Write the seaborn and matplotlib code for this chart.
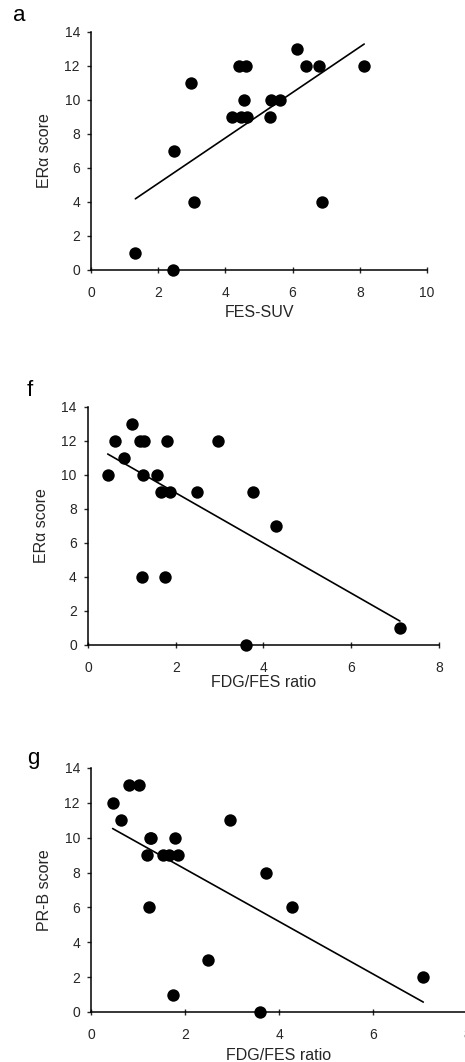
import numpy as np
import pandas as pd
import seaborn as sns
import matplotlib.pyplot as plt

# Panel a: FES-SUV vs ERa score
fes_suv = [1.32, 2.43, 2.47, 2.99, 3.06, 4.20, 4.41, 4.46, 4.61, 4.56,
           4.65, 5.33, 5.35, 5.62, 6.12, 6.39, 6.79, 6.88, 8.13]
era_a = [1, 0, 7, 11, 4, 9, 12, 9, 12, 10, 9, 9, 10, 10, 13, 12, 12, 4, 12]

# Panel f: FDG/FES ratio vs ERa score
ratio_f = [0.45, 0.62, 0.81, 1.01, 1.18, 1.27, 1.23, 1.26, 1.57, 1.66,
           1.80, 1.75, 1.87, 2.48, 2.96, 3.61, 3.75, 4.29, 7.11]
era_f = [10, 12, 11, 13, 12, 12, 4, 10, 10, 9, 12, 4, 9, 9, 12, 0, 9, 7, 1]

# Panel g: FDG/FES ratio vs PR-B score
ratio_g = [0.46, 0.64, 0.81, 1.02, 1.19, 1.26, 1.28, 1.24, 1.54, 1.65,
           1.79, 1.86, 1.74, 2.48, 2.95, 3.59, 3.73, 4.27, 7.07]
prb_g = [12, 11, 13, 13, 9, 10, 10, 6, 9, 9, 10, 9, 1, 3, 11, 0, 8, 6, 2]

sns.set_style("ticks")
plt.rcParams['font.family'] = ['Liberation Sans', 'DejaVu Sans']

fig = plt.figure(figsize=(4.65, 10.62), dpi=100)

panels = [
    # letter, x, y, xlabel, ylabel, xmax, axes rect, letter pos, xlabel pad
    ("a", fes_suv, era_a, "FES-SUV", "ER\u03b1 score", 10,
     [0.1957, 0.7458, 0.7226, 0.2241], (0.028, 0.995), 4),
    ("f", ratio_f, era_f, "FDG/FES ratio", "ER\u03b1 score", 8,
     [0.1892, 0.3927, 0.7548, 0.2241], (0.058, 0.642), 0),
    ("g", ratio_g, prb_g, "FDG/FES ratio", "PR-B score", 8,
     [0.1957, 0.0471, 0.8086, 0.2298], (0.058, 0.296), 4),
]

txt_col = "#262626"

for letter, xs, ys, xlab, ylab, xmax, rect, lpos, xpad in panels:
    ax = fig.add_axes(rect)
    df = pd.DataFrame({"x": xs, "y": ys})
    sns.regplot(data=df, x="x", y="y", ax=ax, ci=None, truncate=True,
                scatter_kws=dict(s=80, color="black", alpha=1, linewidths=0,
                                 clip_on=False, zorder=3),
                line_kws=dict(color="black", lw=1.2))
    ax.set_xlim(0, xmax)
    ax.set_ylim(0, 14)
    ax.set_xticks(np.arange(0, xmax + 1, 2))
    ax.set_yticks(np.arange(0, 15, 2))
    sns.despine(ax=ax)
    for s in ["left", "bottom"]:
        ax.spines[s].set_linewidth(1.1)
        ax.spines[s].set_color("black")
    ax.tick_params(axis="x", direction="inout", length=5, width=1, pad=9,
                   labelsize=10, labelcolor=txt_col)
    ax.tick_params(axis="y", direction="out", length=3, width=1, pad=5,
                   labelsize=10, labelcolor=txt_col)
    ax.set_xlabel(xlab, fontsize=11.5, color=txt_col, labelpad=xpad)
    ax.set_ylabel(ylab, fontsize=11.5, color=txt_col, labelpad=9)
    fig.text(lpos[0], lpos[1], letter, fontsize=16, color="black",
             ha="left", va="top")

fig.savefig("out.png", dpi=100)
